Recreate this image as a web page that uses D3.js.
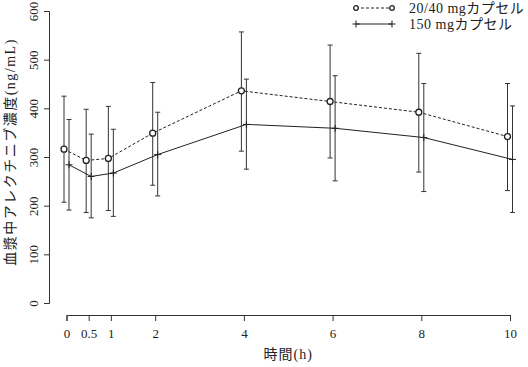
<!DOCTYPE html>
<html>
<head>
<meta charset="utf-8">
<script src="https://cdn.jsdelivr.net/npm/d3@7"></script>
<style>
	body { margin: 0; background: #fff; }
	text { font-family: "Liberation Serif", "Noto Sans CJK JP", serif; fill: #222; }
</style>
</head>
<body>
<div id="chart"></div>
<script>
	var times = [0, 0.5, 1, 2, 4, 6, 8, 10];
	var xTicks = [0, 0.5, 1, 2, 4, 6, 8, 10];
	var yTicks = [0, 100, 200, 300, 400, 500, 600];

	// 20/40 mgカプセル
	var lowMean = [316, 293, 297, 349, 436, 414, 392, 342];
	var lowUpper = [425, 398, 404, 453, 557, 530, 513, 451];
	var lowLower = [207, 186, 190, 242, 312, 298, 269, 231];

	// 150 mgカプセル
	var highMean = [284, 260, 267, 305, 367, 359, 340, 295];
	var highUpper = [377, 347, 357, 392, 460, 467, 451, 405];
	var highLower = [191, 175, 178, 220, 275, 251, 229, 186];

	var labels = ["20/40 mgカプセル", "150 mgカプセル"];

	var width = 528, height = 367;

	var svg = d3.select("#chart")
		.append("svg")
			.attr("width", width)
			.attr("height", height);

	var x = d3.scaleLinear().domain([0, 10]).range([66.5, 510]);
	var y = d3.scaleLinear().domain([0, 600]).range([303, 11]);

	var series = [
		{ mean: lowMean, up: lowUpper, lo: lowLower, dx: -2.5, dash: "3,2", marker: "circle" },
		{ mean: highMean, up: highUpper, lo: highLower, dx: 2.5, dash: null, marker: "cross" }
	];

	// axes
	var yAxis = svg.append("g")
		.attr("transform", "translate(49,0)")
		.call(d3.axisLeft(y).tickValues(yTicks).tickSize(5).tickPadding(3));
	yAxis.selectAll("text")
		.attr("transform", "rotate(-90)")
		.attr("x", 0)
		.attr("dy", 0)
		.attr("y", -11)
		.style("text-anchor", "middle")
		.style("font-size", "13px");

	var xAxis = svg.append("g")
		.attr("transform", "translate(0,315)")
		.call(d3.axisBottom(x).tickValues(xTicks).tickSize(6).tickPadding(8)
			.tickFormat(d => String(d)));
	xAxis.selectAll("text").style("font-size", "13px");

	svg.selectAll(".domain, .tick line").attr("stroke", "#333");

	svg.append("text")
		.attr("x", x(5))
		.attr("y", 359)
		.attr("text-anchor", "middle")
		.style("font-size", "14px")
		.style("letter-spacing", "1px")
		.text("時間(h)");

	svg.append("text")
		.attr("transform", "translate(15,152) rotate(-90)")
		.attr("text-anchor", "middle")
		.style("font-size", "14px")
		.style("letter-spacing", "1.5px")
		.text("血漿中アレクチニブ濃度(ng/mL)");

	function drawMarker(g, kind, cx, cy, r) {
		if (kind == "circle") {
			g.append("circle")
				.attr("cx", cx).attr("cy", cy).attr("r", r)
				.attr("fill", "#fff").attr("stroke", "#222").attr("stroke-width", 1.3);
		} else {
			g.append("path")
				.attr("d", "M" + (cx - 3.5) + "," + cy + "H" + (cx + 3.5) + "M" + cx + "," + (cy - 3.5) + "V" + (cy + 3.5))
				.attr("stroke", "#222").attr("stroke-width", 1);
		}
	}

	series.forEach(s => {
		var g = svg.append("g");

		g.append("path")
			.attr("d", d3.line()
				.x((d, i) => x(times[i]) + s.dx)
				.y(d => y(d))(s.mean))
			.attr("fill", "none")
			.attr("stroke", "#222")
			.attr("stroke-width", 1)
			.attr("stroke-dasharray", s.dash);

		times.forEach((t, i) => {
			var cx = x(t) + s.dx;
			g.append("line")
				.attr("x1", cx).attr("x2", cx)
				.attr("y1", y(s.up[i])).attr("y2", y(s.lo[i]))
				.attr("stroke", "#333").attr("stroke-width", 1);
			[s.up[i], s.lo[i]].forEach(v => {
				g.append("line")
					.attr("x1", cx - 2.5).attr("x2", cx + 2.5)
					.attr("y1", y(v)).attr("y2", y(v))
					.attr("stroke", "#333").attr("stroke-width", 1);
			});
		});

		times.forEach((t, i) => drawMarker(g, s.marker, x(t) + s.dx, y(s.mean[i]), 3));
	});

	// legend
	var legend = svg.append("g");
	series.forEach((s, i) => {
		var ly = 8 + i * 16;
		legend.append("line")
			.attr("x1", 356).attr("x2", 392)
			.attr("y1", ly).attr("y2", ly)
			.attr("stroke", "#222")
			.attr("stroke-dasharray", s.dash);
		drawMarker(legend, s.marker, 356, ly, 2.3);
		drawMarker(legend, s.marker, 392, ly, 2.3);
		legend.append("text")
			.attr("x", 409)
			.attr("y", ly + 5)
			.style("font-size", "14px")
			.style("letter-spacing", "0.5px")
			.text(labels[i]);
	});
</script>
</body>
</html>
